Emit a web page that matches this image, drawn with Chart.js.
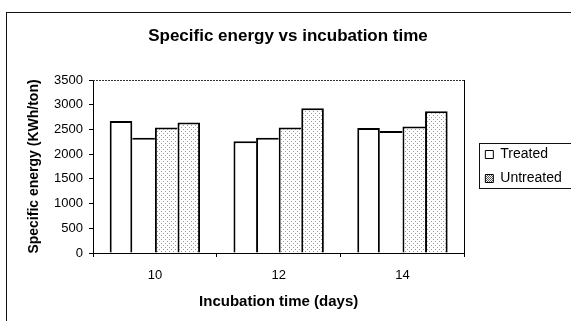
<!DOCTYPE html>
<html>
<head>
<meta charset="utf-8">
<script src="https://cdn.jsdelivr.net/npm/chart.js@4.4.0/dist/chart.umd.min.js"></script>
<style>
  body { margin: 0; background: #fff; overflow: hidden; width: 571px; height: 321px; position: relative; }
  #frame { position: absolute; left: 6px; top: 12px; width: 620px; height: 330px; border-left: 1px solid #111; border-top: 1px solid #111; }
  #chart { position: absolute; left: 7px; top: 13px; }
</style>
</head>
<body>
<div id="frame"></div>
<canvas id="chart" width="572" height="310"></canvas>
<script>
const days = ["10", "12", "14"];
const treatedA = [2670, 2260, 2530];
const treatedB = [2330, 2330, 2470];
const untreatedA = [2540, 2540, 2560];
const untreatedB = [2640, 2930, 2870];
const yTicks = [0, 500, 1000, 1500, 2000, 2500, 3000, 3500];

const FONT = "'Liberation Sans', Arial, Helvetica, sans-serif";

// speckled grey fill like the scanned Excel pattern
const makePattern = (dots, color) => {
  const tile = document.createElement("canvas");
  tile.width = 4;
  tile.height = 4;
  const tctx = tile.getContext("2d");
  tctx.fillStyle = "#fff";
  tctx.fillRect(0, 0, 4, 4);
  tctx.fillStyle = color;
  dots.forEach(([x, y]) => tctx.fillRect(x, y, 1, 1));
  return document.getElementById("chart").getContext("2d").createPattern(tile, "repeat");
};

const speckle = makePattern([[0, 0], [2, 2]], "#9a9a9a");
const speckleDark = makePattern([[0, 0], [2, 0], [1, 1], [3, 1], [0, 2], [2, 2], [1, 3], [3, 3]], "#555");

// neighbouring bars share one 2px edge: the taller of the two draws it
const valueAt = (c, ds) => {
  const set = c.chart.data.datasets[ds];
  return set ? set.data[c.dataIndex] : null;
};
const barEdges = (c) => {
  const v = valueAt(c, c.datasetIndex);
  const prev = valueAt(c, c.datasetIndex - 1);
  const next = valueAt(c, c.datasetIndex + 1);
  return {
    top: 2,
    left: prev === null || prev <= v ? 2 : 0,
    right: next === null || next < v ? 2 : 0,
    bottom: 0,
  };
};

const barStyle = {
  borderColor: "#000",
  borderWidth: barEdges,
  borderSkipped: "bottom",
  inflateAmount: 0,
  categoryPercentage: 92 / 126,
  barPercentage: 1.0,
};

const plotFrame = {
  id: "plotFrame",
  afterDraw: (chart) => {
    const { ctx, chartArea: a, legend } = chart;
    ctx.save();
    ctx.strokeStyle = "#333";
    ctx.lineWidth = 1;
    ctx.setLineDash([2, 1]);
    ctx.beginPath();
    ctx.moveTo(a.left, a.top + 0.5);
    ctx.lineTo(a.right, a.top + 0.5);
    ctx.stroke();
    ctx.setLineDash([]);
    // box round the legend
    const boxes = legend.legendHitBoxes;
    if (boxes && boxes.length) {
      const first = boxes[0];
      const last = boxes[boxes.length - 1];
      const l = Math.round(first.left) - 5.5;
      const t = Math.round(first.top) - 4.5;
      const b = Math.round(last.top + last.height) + 2.5;
      ctx.strokeStyle = "#111";
      ctx.strokeRect(l, t, chart.width + 20 - l, b - t);
    }
    ctx.restore();
  },
};

new Chart(document.getElementById("chart"), {
  type: "bar",
  data: {
    labels: days,
    datasets: [
      { label: "Treated", data: treatedA, backgroundColor: "#fff", ...barStyle },
      { label: "Treated", data: treatedB, backgroundColor: "#fff", ...barStyle },
      { label: "Untreated", data: untreatedA, backgroundColor: speckle, ...barStyle },
      { label: "Untreated", data: untreatedB, backgroundColor: speckle, ...barStyle },
    ],
  },
  options: {
    responsive: false,
    animation: false,
    layout: { padding: { left: 0, top: 0, right: 10, bottom: 0 } },
    plugins: {
      title: {
        display: true,
        text: "Specific energy vs incubation time",
        color: "#000",
        font: { family: FONT, size: 17, weight: "bold" },
        padding: { top: 12.8, bottom: 33.8 },
      },
      legend: {
        position: "right",
        fullSize: false,
        labels: {
          color: "#000",
          font: { family: FONT, size: 14 },
          boxWidth: 8,
          boxHeight: 8,
          padding: 10,
          filter: (item) => item.datasetIndex === 0 || item.datasetIndex === 2,
          generateLabels: (chart) =>
            Chart.defaults.plugins.legend.labels.generateLabels(chart).map((item) => ({
              ...item,
              fillStyle: item.datasetIndex >= 2 ? speckleDark : "#fff",
              strokeStyle: "#000",
              lineWidth: 1,
            })),
        },
      },
      tooltip: { enabled: false },
    },
    scales: {
      x: {
        grid: { drawOnChartArea: false, offset: true, tickLength: 4, color: "#000" },
        border: { color: "#000", width: 1 },
        ticks: { color: "#000", font: { family: FONT, size: 13 }, padding: 11 },
        title: {
          display: true,
          text: "Incubation time (days)",
          color: "#000",
          font: { family: FONT, size: 15, weight: "bold" },
          padding: { top: 0, bottom: 12 },
        },
        afterFit: (scale) => {
          scale.height = 70;
        },
      },
      y: {
        min: 0,
        max: 3500,
        afterBuildTicks: (scale) => {
          scale.ticks = yTicks.map((v) => ({ value: v }));
        },
        grid: { drawOnChartArea: false, tickLength: 4, color: "#000" },
        border: { color: "#000", width: 1 },
        ticks: {
          color: "#000",
          font: { family: FONT, size: 13 },
          padding: 6,
          callback: (v) => String(v),
        },
        title: {
          display: true,
          text: "Specific energy (KWh/ton)",
          color: "#000",
          font: { family: FONT, size: 14, weight: "bold" },
          padding: { top: 18.6, bottom: 0 },
        },
        afterFit: (scale) => {
          scale.width = 86;
        },
      },
      y2: {
        type: "linear",
        position: "right",
        grid: { drawOnChartArea: false, drawTicks: false },
        border: { color: "#000", width: 1 },
        ticks: { display: false },
        afterFit: (scale) => {
          scale.width = 11;
        },
      },
    },
  },
  plugins: [plotFrame],
});
</script>
</body>
</html>
